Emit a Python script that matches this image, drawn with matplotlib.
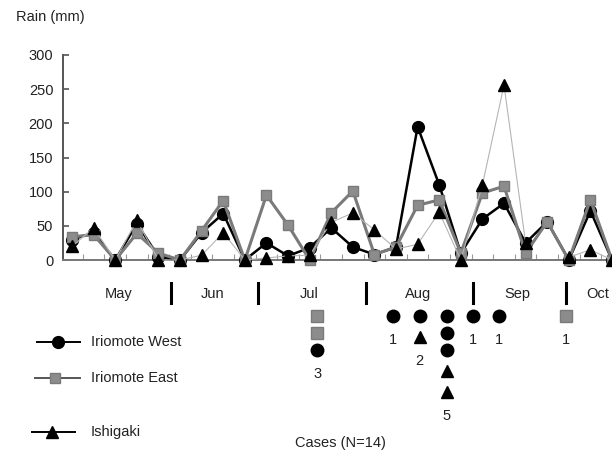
import matplotlib
matplotlib.use("Agg")
import matplotlib.pyplot as plt
from matplotlib.lines import Line2D

plt.rcParams['font.family'] = ['Liberation Sans', 'DejaVu Sans']

nan = float('nan')

# weekly rainfall (mm), week index 0 = first week of May
iw = [30, 40, 0, 53, 5, 0, 40, 68, 0, 25, 6, 18, 47, 19, 8, 19, 195, 110, 10, 60, 83, 25, 56, 0, 72, 0]
ie = [34, 37, 0, 39, 10, 0, 43, 87, 0, 95, 51, 0, 69, 101, 8, 19, 80, 88, 10, 98, 108, 10, 56, 0, 88, 0]
ish = [20, 47, 0, 58, 0, 0, 7, 40, 0, 3, 6, 7, 55, 69, 44, 16, 23, 70, 0, 110, 256, 25, nan, 4, 15, 0]
weeks = list(range(len(iw)))

months = ['May', 'Jun', 'Jul', 'Aug', 'Sep', 'Oct']
month_mid = [2.15, 6.5, 11.0, 16.0, 20.6, 24.35]
month_breaks = [4.6, 8.6, 13.6, 18.55, 22.85]

# cases per week and station (W = Iriomote West, E = Iriomote East, I = Ishigaki)
case_week = [11.35, 14.85, 16.1, 17.35, 18.55, 19.75, 22.85]
case_sites = [['E', 'E', 'W'], ['W'], ['W', 'I'], ['W', 'W', 'W', 'I', 'I'], ['W'], ['W'], ['E']]

W, H = 612, 454
fig = plt.figure(figsize=(W / 100, H / 100), dpi=100)
ax_l, ax_r, ax_top, ax_bot = 63, 612, 55, 260
ax = fig.add_axes([ax_l / W, 1 - ax_bot / H, (ax_r - ax_l) / W, (ax_bot - ax_top) / H])

grey = '#8c8c8c'
styles = {
    'W': dict(marker='o', color='black', mfc='black', mec='black', ms=8.5),
    'E': dict(marker='s', color='#7a7a7a', mfc=grey, mec='#7a7a7a', ms=7.5),
    'I': dict(marker='^', color='#b5b5b5', mfc='black', mec='black', ms=8),
}
lws = {'W': 1.8, 'E': 2.2, 'I': 0.8}

ax.plot(weeks, iw, lw=lws['W'], clip_on=False, zorder=3, **styles['W'])
ax.plot(weeks, ie, lw=lws['E'], clip_on=False, zorder=4, **styles['E'])
ax.plot(weeks, ish, lw=lws['I'], clip_on=False, zorder=5, **styles['I'])

ax.set_xlim(-0.42, 25.0)
ax.set_ylim(0, 300)
ax.set_yticks(range(0, 301, 50))
ax.set_xticks([])
ax.set_xticks([w + 0.5 for w in weeks[:-1]], minor=True)
ax.tick_params(axis='y', direction='in', length=4, width=1.2, color='#555555',
               pad=7, labelsize=10.5, labelcolor='#222222')
ax.tick_params(axis='x', which='minor', direction='in', length=4, width=0.8, color='#999999')
for s in ['top', 'right']:
    ax.spines[s].set_visible(False)
ax.spines['left'].set_color('#555555')
ax.spines['left'].set_linewidth(1.4)
ax.spines['bottom'].set_color('#777777')
ax.spines['bottom'].set_linewidth(1.4)

h_px = ax_bot - ax_top


def below(py):
    return (ax_bot - py) / h_px


tr = ax.get_xaxis_transform()
for m, x in zip(months, month_mid):
    ax.text(x, below(294), m, transform=tr, ha='center', va='center',
            fontsize=10.5, color='#222222', clip_on=False)
for x in month_breaks:
    ax.plot([x, x], [below(283), below(303)], transform=tr, color='black',
            lw=2.2, clip_on=False)

for x, sites in zip(case_week, case_sites):
    py = 316
    for k, s in enumerate(sites):
        if k > 0:
            py += 21 if s == 'I' else 17
        st = styles[s]
        ax.plot([x], [below(py)], transform=tr, ls='none', marker=st['marker'],
                mfc=st['mfc'], mec=st['mec'], ms=st['ms'] + 0.5, clip_on=False)
    ax.text(x, below(py + 24), str(len(sites)), transform=tr, ha='center',
            va='center', fontsize=10.5, color='#222222', clip_on=False)

fig.text(340 / W, 1 - 443 / H, 'Cases (N=14)', ha='center', va='center',
         fontsize=10.5, color='#222222')
fig.text(16 / W, 1 - 17 / H, 'Rain (mm)', ha='left', va='center',
         fontsize=10.5, color='#222222')

# legend
legend_rows = [('W', 'Iriomote West', 342, 37, 80, 58),
               ('E', 'Iriomote East', 378, 35, 80, 55),
               ('I', 'Ishigaki', 432, 32, 75, 52)]
for key, label, py, x0, x1, xm in legend_rows:
    st = styles[key]
    yy = 1 - py / H
    fig.add_artist(Line2D([x0 / W, x1 / W], [yy, yy], transform=fig.transFigure,
                          color='black' if key != 'E' else '#555555', lw=1.4))
    fig.add_artist(Line2D([xm / W], [yy], transform=fig.transFigure, ls='none',
                          marker=st['marker'], mfc=st['mfc'], mec=st['mec'], ms=st['ms']))
    fig.text(91 / W, yy, label, ha='left', va='center', fontsize=10.5, color='#222222')

fig.savefig('out.png', dpi=100)
